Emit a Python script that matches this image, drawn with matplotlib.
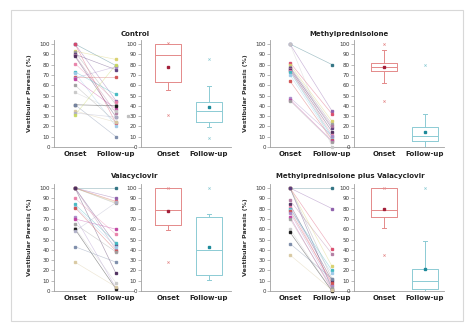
import matplotlib
matplotlib.use("Agg")
import matplotlib.pyplot as plt
from matplotlib.patches import Rectangle

# ---------------- data ----------------
panel_titles = ["Control", "Methylprednisolone", "Valacyclovir",
                "Methylprednisolone plus Valacyclovir"]
time_labels = ["Onset", "Follow-up"]

control_onset = [100, 100, 100, 93, 92, 90, 89, 88, 81, 73, 72, 68, 67, 66, 60, 53, 41, 41, 35, 33, 31]
control_follow = [79, 45, 23, 85, 41, 75, 33, 29, 44, 51, 20, 68, 78, 37, 24, 35, 40, 10, 24, 29, 80]

mp_onset = [100, 100, 82, 80, 78, 77, 76, 75, 74, 73, 70, 64, 48, 46, 45, 100]
mp_follow = [80, 35, 32, 25, 22, 18, 20, 15, 12, 10, 8, 7, 11, 6, 5, 0]

val_onset = [100, 100, 100, 100, 100, 100, 100, 100, 90, 84, 82, 81, 72, 70, 65, 61, 60, 43, 28, 58]
val_follow = [100, 90, 87, 86, 85, 45, 40, 17, 55, 47, 43, 39, 3, 60, 38, 8, 2, 28, 4, 86]

mpv_onset = [100, 100, 100, 100, 100, 100, 88, 84, 82, 80, 79, 78, 76, 72, 70, 60, 57, 46, 35]
mpv_follow = [100, 80, 41, 24, 12, 2, 36, 10, 6, 20, 17, 8, 5, 1, 3, 0, 0, 12, 1]

# box-plot summaries: q1, median, q3, whisker low, whisker high, mean, fliers
control_box_onset = dict(q1=63, med=89, q3=100, whislo=55, whishi=100, mean=78, fliers=[31, 101])
control_box_follow = dict(q1=24, med=35, q3=44, whislo=19, whishi=59, mean=39, fliers=[85, 9])
mp_box_onset = dict(q1=73.5, med=78, q3=82, whislo=62, whishi=94, mean=78, fliers=[100, 45])
mp_box_follow = dict(q1=6, med=11, q3=19, whislo=0, whishi=32, mean=15, fliers=[80])
val_box_onset = dict(q1=64, med=79, q3=100, whislo=59, whishi=100, mean=78, fliers=[28, 100])
val_box_follow = dict(q1=16, med=40, q3=72, whislo=11, whishi=75, mean=43, fliers=[100])
mpv_box_onset = dict(q1=72, med=79, q3=100, whislo=61, whishi=100, mean=80, fliers=[35, 100])
mpv_box_follow = dict(q1=2, med=10, q3=21, whislo=0, whishi=49, mean=21, fliers=[100])

palette = ["#2b6f7f", "#8a5aa8", "#d9486a", "#d8d06a", "#9a9a9a", "#5a3a7a",
           "#b07aa0", "#4a2a5a", "#e880a8", "#40b8c0", "#9cc8e8", "#d05050",
           "#a88ac8", "#c040a0", "#a0a0a0", "#c8c8c8", "#111111", "#7a8aa8",
           "#d8c8a0", "#b0b0c8", "#c8d860"]

# ---------------- figure ----------------
W, H = 474, 332
fig = plt.figure(figsize=(W / 100, H / 100), dpi=100)
fig.patch.set_facecolor("white")
fig.patches.append(Rectangle((11 / W, 1 - 321 / H), 452 / W, 311 / H,
                             transform=fig.transFigure, fill=False,
                             edgecolor="#d8d8d8", lw=0.8))

YTOP = 100 + 4 / 1.03


def px_axes(L, R, top, bottom, O, F):
    ax = fig.add_axes([L / W, 1 - bottom / H, (R - L) / W, (bottom - top) / H])
    ax.set_xlim((L - O) / (F - O), (R - O) / (F - O))
    ax.set_ylim(0, YTOP)
    for s in ["top", "right"]:
        ax.spines[s].set_visible(False)
    for s in ["left", "bottom"]:
        ax.spines[s].set_color("#a0a0a0")
        ax.spines[s].set_linewidth(0.6)
    ax.set_yticks(range(0, 101, 10))
    ax.tick_params(axis="y", labelsize=4, length=2, width=0.5, pad=1,
                   color="#a0a0a0", labelcolor="#333333")
    ax.set_xticks([0, 1])
    ax.set_xticklabels(time_labels, fontsize=5, fontweight="bold", color="#222222")
    ax.tick_params(axis="x", length=0, pad=3)
    ax.patch.set_alpha(0)
    return ax


def spaghetti(ax, onset, follow):
    for i, (a, b) in enumerate(zip(onset, follow)):
        c = palette[i % len(palette)]
        ax.plot([0, 1], [a, b], color=c, lw=0.45, alpha=0.45, zorder=2)
        ax.plot([0, 1], [a, b], ls="none", marker="s", ms=1.5, color=c,
                alpha=0.9, zorder=3, clip_on=False)
    ax.set_ylabel("Vestibular Paresis (%)", fontsize=4.5, fontweight="bold",
                  color="#333333")
    ax.yaxis.set_label_coords(-0.27, 0.5)


def boxes(ax, s_on, s_fu):
    cols = [("#e48a8a", "#a3203a"), ("#8ccbd4", "#1d8a9a")]
    for pos, st, (ec, mc) in zip([0, 1], [s_on, s_fu], cols):
        stats = [dict(q1=st["q1"], med=st["med"], q3=st["q3"],
                      whislo=st["whislo"], whishi=st["whishi"], fliers=[])]
        ax.bxp(stats, positions=[pos], widths=0.62, showfliers=False,
               boxprops=dict(color=ec, lw=0.7),
               medianprops=dict(color=ec, lw=0.7),
               whiskerprops=dict(color=ec, lw=0.7),
               capprops=dict(color=ec, lw=0.7), capwidths=0.08,
               manage_ticks=False)
        ax.plot([pos] * len(st["fliers"]), st["fliers"], ls="none", marker="x",
                ms=1.6, mew=0.5, color=ec, clip_on=False)
        ax.plot([pos], [st["mean"]], ls="none", marker="s", ms=2.0, color=mc,
                zorder=5)


# top-left: Control
a1 = px_axes(54, 134, 40, 147, 75, 116)
spaghetti(a1, control_onset, control_follow)
a1.plot([1.29], [30], ls="none", marker="s", ms=1.4, color="#c0c0c0")
b1 = px_axes(141, 231, 40, 147, 168, 209)
boxes(b1, control_box_onset, control_box_follow)

# top-right: Methylprednisolone
a2 = px_axes(270, 350, 40, 147, 290, 332)
spaghetti(a2, mp_onset, mp_follow)
b2 = px_axes(354, 444, 40, 147, 384, 425)
boxes(b2, mp_box_onset, mp_box_follow)

# bottom-left: Valacyclovir
a3 = px_axes(54, 134, 184, 291, 75, 116)
spaghetti(a3, val_onset, val_follow)
b3 = px_axes(141, 231, 184, 291, 168, 209)
boxes(b3, val_box_onset, val_box_follow)

# bottom-right: MP + Valacyclovir
a4 = px_axes(270, 350, 184, 291, 290, 332)
spaghetti(a4, mpv_onset, mpv_follow)
b4 = px_axes(354, 444, 184, 291, 384, 425)
boxes(b4, mpv_box_onset, mpv_box_follow)

for (x, y), t in zip([(135, 34), (349, 34), (135, 176), (350, 176)], panel_titles):
    fig.text(x / W, 1 - y / H, t, ha="center", va="center", fontsize=5,
             fontweight="bold", color="#222222")

fig.savefig("out.png", dpi=100)
